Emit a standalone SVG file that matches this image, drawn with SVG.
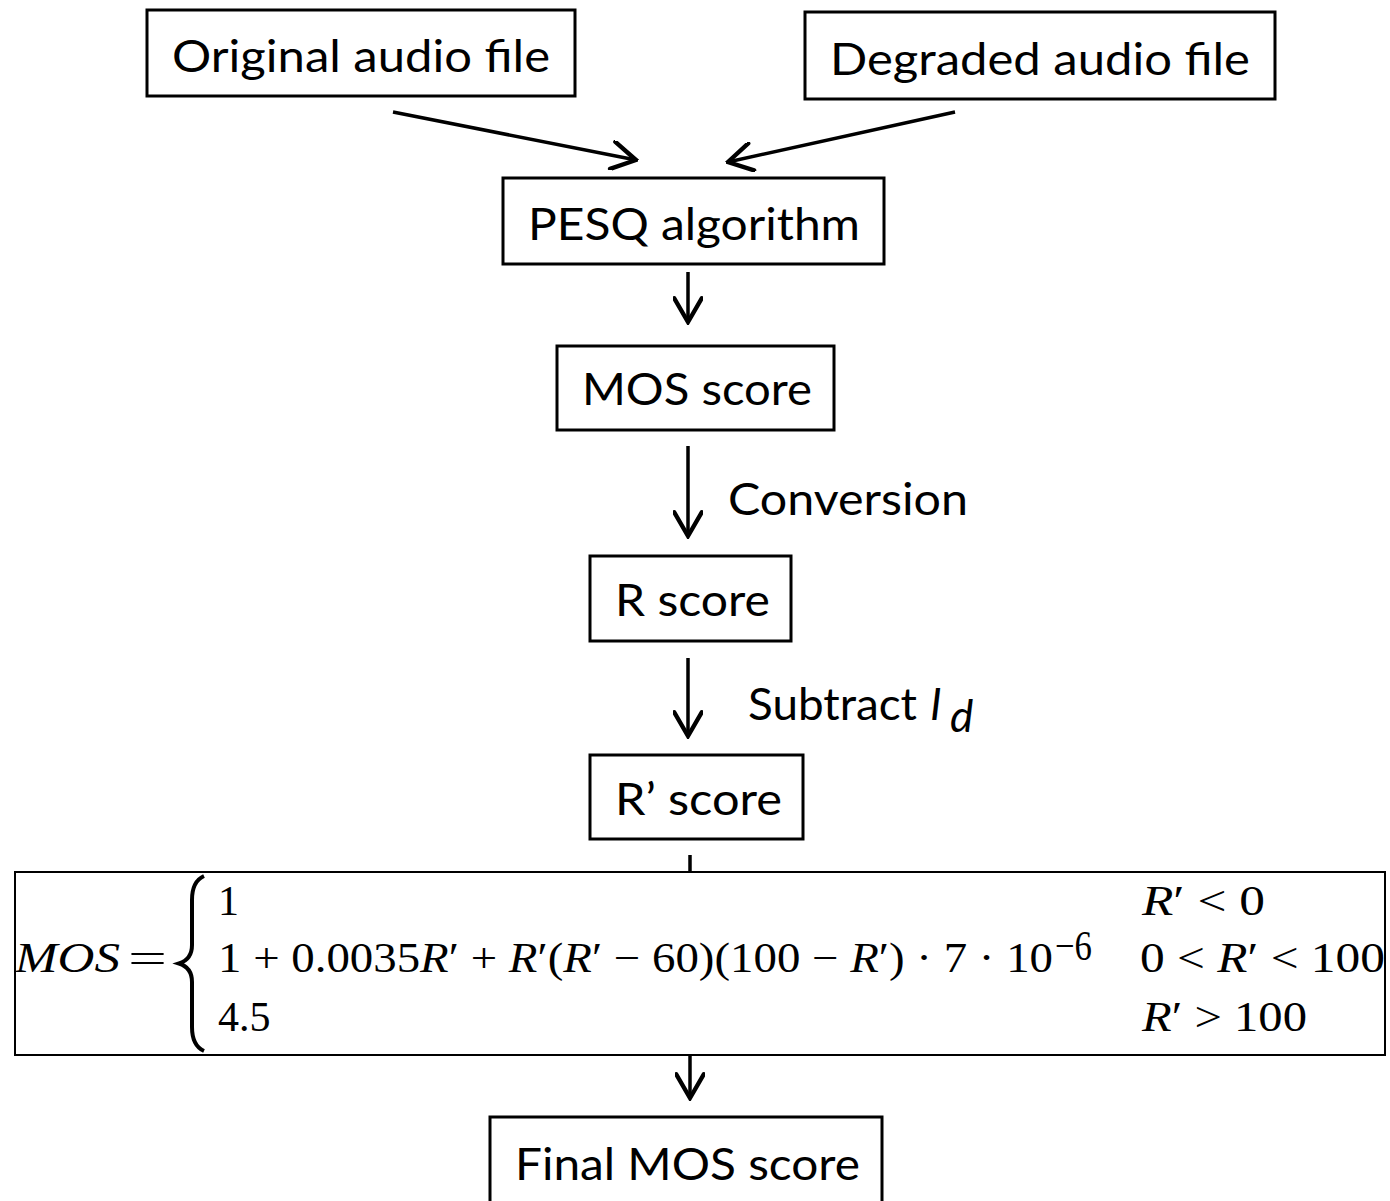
<svg xmlns="http://www.w3.org/2000/svg" width="1390" height="1201" viewBox="0 0 1390 1201">
<style>
.box{fill:#fff;stroke:#000;stroke-width:3}
.lbl{font-family:Lato,"Open Sans","Liberation Sans",sans-serif;font-size:44px;fill:#000}
.math{font-family:"Liberation Serif","DejaVu Serif",serif;font-size:42px;fill:#000}
.it{font-style:italic}
.edge{fill:none;stroke:#000;stroke-width:3.5}
</style>
<defs>
<marker id="ah" markerUnits="userSpaceOnUse" markerWidth="30" markerHeight="30" viewBox="0 0 24 24" refX="22" refY="12" orient="auto">
<path d="M3,1 L22,12 L3,23" fill="none" stroke="#000" stroke-width="3.5" stroke-linecap="round" stroke-linejoin="miter"/>
</marker>
</defs>
<rect width="1390" height="1201" fill="#fff"/>
<g id="connectors">
<line class="edge" x1="393" y1="112" x2="636" y2="160" marker-end="url(#ah)"/>
<line class="edge" x1="955" y1="112" x2="728" y2="162" marker-end="url(#ah)"/>
<line class="edge" x1="688" y1="272" x2="688" y2="322" marker-end="url(#ah)"/>
<line class="edge" x1="688" y1="446" x2="688" y2="536" marker-end="url(#ah)"/>
<line class="edge" x1="688" y1="658" x2="688" y2="736" marker-end="url(#ah)"/>
<line class="edge" x1="690" y1="855" x2="690" y2="873"/>
<line class="edge" x1="690" y1="1055" x2="690" y2="1098" marker-end="url(#ah)"/>
<text class="lbl" x="728" y="515" textLength="240" lengthAdjust="spacingAndGlyphs">Conversion</text>
<text class="lbl" x="748" y="720" textLength="169" lengthAdjust="spacingAndGlyphs">Subtract</text>
<text class="lbl it" x="930" y="720">I</text>
<text class="lbl it" x="950" y="732" font-size="28">d</text>
</g>
<g id="original">
<rect class="box" x="147" y="10" width="428" height="86"/>
<text class="lbl" x="172" y="72" textLength="378" lengthAdjust="spacingAndGlyphs">Original audio file</text>
</g>
<g id="degraded">
<rect class="box" x="805" y="12" width="470" height="87"/>
<text class="lbl" x="830" y="75" textLength="420" lengthAdjust="spacingAndGlyphs">Degraded audio file</text>
</g>
<g id="pesq">
<rect class="box" x="503" y="178" width="381" height="86"/>
<text class="lbl" x="528" y="240" textLength="332" lengthAdjust="spacingAndGlyphs">PESQ algorithm</text>
</g>
<g id="mos">
<rect class="box" x="557" y="346" width="277" height="84"/>
<text class="lbl" x="582" y="405" textLength="230" lengthAdjust="spacingAndGlyphs">MOS score</text>
</g>
<g id="rscore">
<rect class="box" x="590" y="556" width="201" height="85"/>
<text class="lbl" x="615" y="616" textLength="155" lengthAdjust="spacingAndGlyphs">R score</text>
</g>
<g id="rprime">
<rect class="box" x="590" y="755" width="213" height="84"/>
<text class="lbl" x="615" y="815" textLength="167" lengthAdjust="spacingAndGlyphs">R’ score</text>
</g>
<g id="formula">
<rect x="15" y="872" width="1370" height="183" fill="#fff" stroke="#000" stroke-width="2"/>
<text class="math it" x="15" y="972" textLength="105" lengthAdjust="spacingAndGlyphs">MOS</text>
<text class="math" x="128" y="972" textLength="39" lengthAdjust="spacingAndGlyphs">=</text>
<path d="M204,876 C195,880 192,888 192,900 L192,945 C192,955 187,961 179,963.5 C187,966 192,972 192,982 L192,1027 C192,1039 195,1047 204,1051" fill="none" stroke="#000" stroke-width="4"/>
<text class="math" x="218" y="915">1</text>
<text class="math" x="218" y="972" textLength="835" lengthAdjust="spacingAndGlyphs">1 + 0.0035<tspan class="it">R</tspan>′ + <tspan class="it">R</tspan>′(<tspan class="it">R</tspan>′ − 60)(100 − <tspan class="it">R</tspan>′) · 7 · 10</text>
<text class="math" x="1055" y="960" font-size="27" textLength="37" lengthAdjust="spacingAndGlyphs">−6</text>
<text class="math" x="218" y="1031">4.5</text>
<text class="math" x="1142" y="915" textLength="123" lengthAdjust="spacingAndGlyphs"><tspan class="it">R</tspan>′ &lt; 0</text>
<text class="math" x="1140" y="972" textLength="245" lengthAdjust="spacingAndGlyphs">0 &lt; <tspan class="it">R</tspan>′ &lt; 100</text>
<text class="math" x="1142" y="1031" textLength="165" lengthAdjust="spacingAndGlyphs"><tspan class="it">R</tspan>′ &gt; 100</text>
</g>
<g id="final">
<rect class="box" x="490" y="1117" width="392" height="95"/>
<text class="lbl" x="515" y="1180" textLength="345" lengthAdjust="spacingAndGlyphs">Final MOS score</text>
</g>
</svg>
